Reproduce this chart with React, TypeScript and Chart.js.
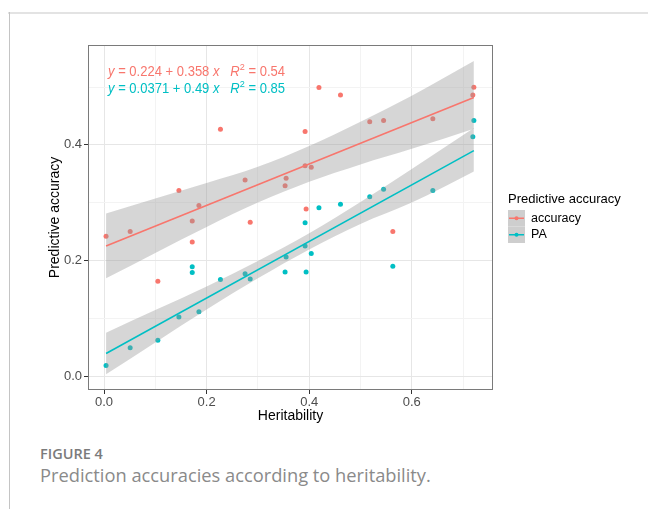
import React, { useEffect, useRef } from 'react';
import { Chart, registerables } from 'chart.js';

Chart.register(...registerables);

// ---- data ----
const heritability = [0.004, 0.051, 0.105, 0.146, 0.172, 0.172, 0.185, 0.227, 0.275, 0.285, 0.353, 0.355, 0.392, 0.392, 0.394, 0.404, 0.419, 0.461, 0.518, 0.545, 0.563, 0.641, 0.719, 0.721];
const accuracy = [0.242, 0.25, 0.164, 0.321, 0.268, 0.232, 0.295, 0.427, 0.339, 0.266, 0.329, 0.342, 0.423, 0.364, 0.289, 0.361, 0.499, 0.486, 0.44, 0.442, 0.25, 0.445, 0.486, 0.4995];
const paValues = [0.018, 0.049, 0.062, 0.102, 0.189, 0.179, 0.111, 0.167, 0.177, 0.168, 0.18, 0.206, 0.265, 0.225, 0.18, 0.212, 0.291, 0.297, 0.31, 0.323, 0.19, 0.321, 0.414, 0.442];

const fitX = [0.004, 0.721];
const accuracyFit = [0.225, 0.482];
const paFit = [0.039, 0.39];

const bandX = [0.004, 0.1, 0.2, 0.3, 0.4, 0.5, 0.6, 0.721];
const accuracyUpper = [0.281, 0.307, 0.334, 0.362, 0.398, 0.44, 0.485, 0.545];
const accuracyLower = [0.169, 0.213, 0.258, 0.3, 0.336, 0.366, 0.393, 0.428];
const paUpper = [0.075, 0.114, 0.155, 0.199, 0.247, 0.301, 0.358, 0.429];
const paLower = [0.003, 0.058, 0.115, 0.169, 0.219, 0.263, 0.3, 0.354];

const xTicks = [0, 0.1, 0.2, 0.3, 0.4, 0.5, 0.6, 0.7];
const yTicks = [0, 0.1, 0.2, 0.3, 0.4, 0.5];
const seriesNames = ['accuracy', 'PA'];
const seriesColors = ['#F8766D', '#00BFC4'];
const legendTitle = 'Predictive accuracy';
const xTitle = 'Heritability';
const yTitle = 'Predictive accuracy';
const eqIntercepts = ['0.224', '0.0371'];
const eqSlopes = ['0.358', '0.49'];
const eqR2 = ['0.54', '0.85'];
const captionLabel = 'FIGURE 4';
const captionText = 'Prediction accuracies according to heritability.';

const FONT = '"Liberation Sans", Arial, sans-serif';
const BAND = 'rgba(153,153,153,0.4)';

const pts = (xs: number[], ys: number[]) => xs.map((x, i) => ({ x, y: ys[i] }));
const isMajor = (v: number) => Math.abs(Math.round(v * 10)) % 2 === 0;

function drawRich(ctx: CanvasRenderingContext2D, x: number, y: number, pieces: { t: string; i?: boolean; s?: boolean }[], size: number, targetW: number) {
  const fontOf = (p: { i?: boolean; s?: boolean }) => `${p.i ? 'italic ' : ''}${p.s ? size * 0.7 : size}px ${FONT}`;
  let total = 0;
  for (const p of pieces) { ctx.font = fontOf(p); total += ctx.measureText(p.t).width; }
  const k = targetW / total;
  ctx.save();
  ctx.translate(x, y);
  ctx.scale(k, 1);
  let cx = 0;
  ctx.textBaseline = 'middle';
  ctx.textAlign = 'left';
  for (const p of pieces) {
    ctx.font = fontOf(p);
    ctx.fillText(p.t, cx, p.s ? -size * 0.35 : 0);
    cx += ctx.measureText(p.t).width;
  }
  ctx.restore();
}

const decorPlugin = {
  id: 'decor',
  afterDatasetsDraw(chart: any) {
    const { ctx, chartArea: a } = chart;
    ctx.save();
    // panel border
    ctx.strokeStyle = '#7a7a7a';
    ctx.lineWidth = 1;
    ctx.strokeRect(a.left + 0.5, a.top + 0.5, a.right - a.left - 1, a.bottom - a.top - 1);
    // equations
    const ys = [72, 89.5];
    for (let i = 0; i < 2; i++) {
      ctx.fillStyle = seriesColors[i];
      drawRich(ctx, 108, ys[i], [
        { t: 'y', i: true },
        { t: ' = ' + eqIntercepts[i] + ' + ' + eqSlopes[i] + ' ' },
        { t: 'x', i: true },
        { t: '   ' },
        { t: 'R', i: true },
        { t: '2', s: true },
        { t: ' = ' + eqR2[i] },
      ], 14, 177);
    }
    // axis titles
    ctx.fillStyle = '#000';
    ctx.font = `14px ${FONT}`;
    ctx.textAlign = 'center';
    ctx.textBaseline = 'middle';
    ctx.fillText(xTitle, (a.left + a.right) / 2, 416);
    ctx.save();
    ctx.translate(55, (a.top + a.bottom) / 2);
    ctx.rotate(-Math.PI / 2);
    ctx.fillText(yTitle, 0, 0);
    ctx.restore();
    // legend
    ctx.textAlign = 'left';
    ctx.font = `13px ${FONT}`;
    ctx.fillText(legendTitle, 508, 199);
    const keyTop = [210, 226.5];
    for (let i = 0; i < 2; i++) {
      ctx.fillStyle = '#f2f2f2';
      ctx.fillRect(508, keyTop[i], 17, 16.5);
      ctx.fillStyle = BAND;
      ctx.fillRect(508, keyTop[i], 17, 16.5);
      const cy = keyTop[i] + 8.25;
      ctx.strokeStyle = seriesColors[i];
      ctx.lineWidth = 1.5;
      ctx.beginPath();
      ctx.moveTo(509, cy);
      ctx.lineTo(524, cy);
      ctx.stroke();
      ctx.fillStyle = seriesColors[i];
      ctx.beginPath();
      ctx.arc(516.5, cy, 2, 0, Math.PI * 2);
      ctx.fill();
      ctx.fillStyle = '#000';
      ctx.font = `12.5px ${FONT}`;
      ctx.fillText(seriesNames[i], 531, cy);
    }
    ctx.restore();
  },
};

export default function App() {
  const ref = useRef<HTMLCanvasElement | null>(null);
  useEffect(() => {
    if (!ref.current) return;
    const bandCommon = { showLine: true, pointRadius: 0, borderWidth: 0, borderColor: 'rgba(0,0,0,0)', cubicInterpolationMode: 'monotone', order: 1 };
    const chart = new Chart(ref.current, {
      type: 'scatter',
      data: {
        datasets: [
          { ...bandCommon, label: 'accU', data: pts(bandX, accuracyUpper), fill: '+1', backgroundColor: BAND },
          { ...bandCommon, label: 'accL', data: pts(bandX, accuracyLower), fill: false },
          { ...bandCommon, label: 'paU', data: pts(bandX, paUpper), fill: '+1', backgroundColor: BAND },
          { ...bandCommon, label: 'paL', data: pts(bandX, paLower), fill: false },
          { label: 'accFit', data: pts(fitX, accuracyFit), showLine: true, pointRadius: 0, borderColor: seriesColors[0], borderWidth: 1.6, order: 0 },
          { label: 'paFit', data: pts(fitX, paFit), showLine: true, pointRadius: 0, borderColor: seriesColors[1], borderWidth: 1.6, order: 0 },
          { label: seriesNames[0], data: pts(heritability, accuracy), pointRadius: 2.5, borderWidth: 0, backgroundColor: seriesColors[0], order: 2 },
          { label: seriesNames[1], data: pts(heritability, paValues), pointRadius: 2.5, borderWidth: 0, backgroundColor: seriesColors[1], order: 2 },
        ] as any,
      },
      options: {
        animation: false,
        responsive: false,
        events: [],
        layout: { padding: { left: 0, top: 45, right: 155, bottom: 0 } },
        plugins: { legend: { display: false }, tooltip: { enabled: false } },
        scales: {
          x: {
            type: 'linear',
            min: -0.0312,
            max: 0.7583,
            afterFit: (s: any) => { s.height = 40; },
            afterBuildTicks: (s: any) => { s.ticks = xTicks.map((v) => ({ value: v })); },
            border: { display: false },
            grid: {
              color: (c: any) => (isMajor(c.tick.value) ? '#e6e6e6' : '#f3f3f3'),
              tickColor: (c: any) => (isMajor(c.tick.value) ? '#333333' : 'rgba(0,0,0,0)'),
              tickLength: 4,
              lineWidth: 1,
            },
            ticks: {
              color: '#4d4d4d',
              font: { family: FONT, size: 13 },
              padding: 1,
              maxRotation: 0,
              autoSkip: false,
              callback: (v: any) => (isMajor(Number(v)) ? Number(v).toFixed(1) : ''),
            },
          },
          y: {
            type: 'linear',
            min: -0.0242,
            max: 0.5727,
            afterFit: (s: any) => { s.width = 88; },
            afterBuildTicks: (s: any) => { s.ticks = yTicks.map((v) => ({ value: v })); },
            border: { display: false },
            grid: {
              color: (c: any) => (isMajor(c.tick.value) ? '#e6e6e6' : '#f3f3f3'),
              tickColor: (c: any) => (isMajor(c.tick.value) ? '#333333' : 'rgba(0,0,0,0)'),
              tickLength: 4,
              lineWidth: 1,
            },
            ticks: {
              color: '#4d4d4d',
              font: { family: FONT, size: 13 },
              padding: 2,
              autoSkip: false,
              callback: (v: any) => (isMajor(Number(v)) ? Number(v).toFixed(1) : ''),
            },
          },
        },
      } as any,
      plugins: [decorPlugin],
    });
    return () => chart.destroy();
  }, []);

  return (
    <div style={{ position: 'absolute', left: 0, top: 0, width: 648, height: 509, background: '#fff', overflow: 'hidden' }}>
      <div style={{ position: 'absolute', left: 8, top: 12, width: 640, height: 2, background: '#e3e3e3' }} />
      <div style={{ position: 'absolute', left: 9, top: 12, width: 1, height: 497, background: '#c4c4c4' }} />
      <canvas ref={ref} width={648} height={430} style={{ position: 'absolute', left: 0, top: 0, width: 648, height: 430 }} />
      <div style={{ position: 'absolute', left: 40, top: 444, fontFamily: '"Open Sans", Lato, sans-serif', fontWeight: 600, fontSize: 14.5, color: '#7b7b7b', lineHeight: '20px', whiteSpace: 'nowrap' }}>{captionLabel}</div>
      <div style={{ position: 'absolute', left: 40, top: 463, fontFamily: '"Open Sans", Lato, sans-serif', fontWeight: 400, fontSize: 18.3, color: '#8a8a8a', lineHeight: '24px', whiteSpace: 'nowrap' }}>{captionText}</div>
    </div>
  );
}
